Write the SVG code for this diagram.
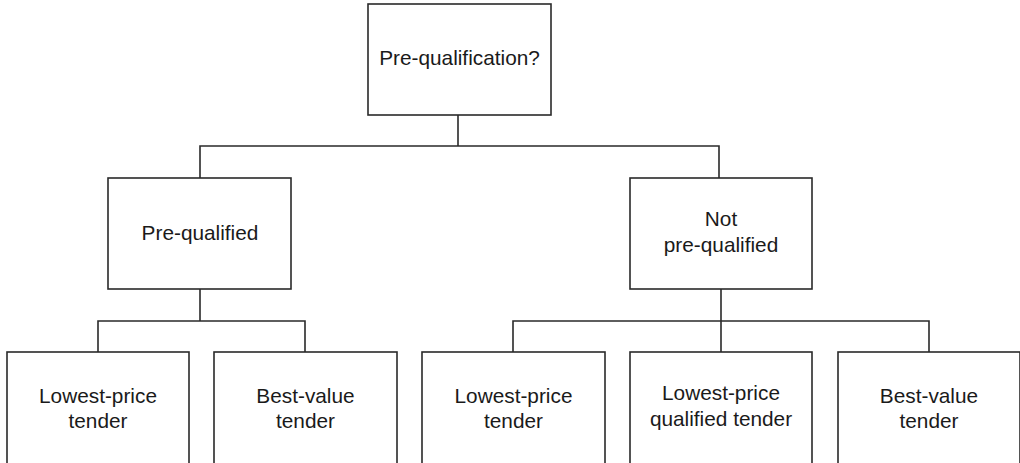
<svg xmlns="http://www.w3.org/2000/svg" width="1020" height="463" viewBox="0 0 1020 463">
  <style>
    .box { fill: #ffffff; stroke: #2a2a2a; stroke-width: 1.6; }
    .wire { fill: none; stroke: #2a2a2a; stroke-width: 1.6; }
    .label { font-family: "Liberation Sans", Arial, sans-serif; font-size: 20.8px; fill: #1a1a1a; text-anchor: middle; }
  </style>
  <rect width="1020" height="463" fill="#ffffff"/>

  <!-- connectors -->
  <g id="connectors">
    <path class="wire" d="M458 115 V146 M200 178 V146 H719 V178"/>
    <path class="wire" d="M200 289 V321 M98 352 V321 H305 V352"/>
    <path class="wire" d="M721 289 V352 M513 352 V321 H929 V352"/>
  </g>

  <g id="node-root">
    <rect class="box" x="368" y="4" width="183" height="111"/>
    <text class="label" x="459.5" y="65">Pre-qualification?</text>
  </g>

  <g id="node-prequalified">
    <rect class="box" x="108" y="178" width="183" height="111"/>
    <text class="label" x="200" y="240">Pre-qualified</text>
  </g>

  <g id="node-not-prequalified">
    <rect class="box" x="630" y="178" width="182" height="111"/>
    <text class="label" x="721" y="226">Not</text>
    <text class="label" x="721" y="252">pre-qualified</text>
  </g>

  <g id="node-pq-lowest">
    <rect class="box" x="7" y="352" width="182" height="120"/>
    <text class="label" x="98" y="403">Lowest-price</text>
    <text class="label" x="98" y="428">tender</text>
  </g>

  <g id="node-pq-best">
    <rect class="box" x="214" y="352" width="183" height="120"/>
    <text class="label" x="305.5" y="403">Best-value</text>
    <text class="label" x="305.5" y="428">tender</text>
  </g>

  <g id="node-npq-lowest">
    <rect class="box" x="422" y="352" width="183" height="120"/>
    <text class="label" x="513.5" y="403">Lowest-price</text>
    <text class="label" x="513.5" y="428">tender</text>
  </g>

  <g id="node-npq-qualified">
    <rect class="box" x="630" y="352" width="182" height="120"/>
    <text class="label" x="721" y="400">Lowest-price</text>
    <text class="label" x="721" y="426">qualified tender</text>
  </g>

  <g id="node-npq-best">
    <rect class="box" x="838" y="352" width="182" height="120"/>
    <text class="label" x="929" y="403">Best-value</text>
    <text class="label" x="929" y="428">tender</text>
  </g>
</svg>
